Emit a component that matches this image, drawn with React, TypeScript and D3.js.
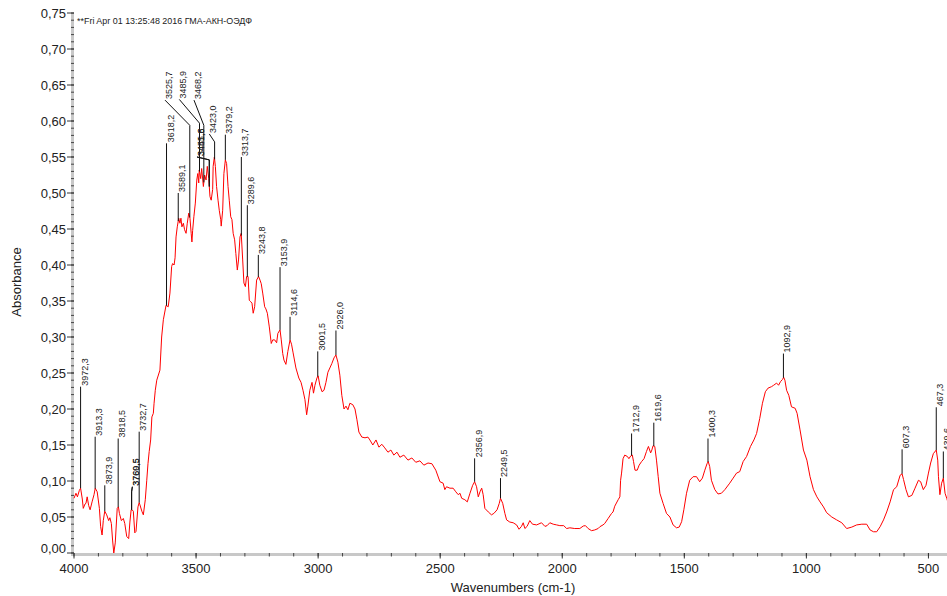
import React from 'react';
import * as d3 from 'd3';

// Spectrum (wavenumber cm-1, absorbance)
const wavenumbers = [
  4000, 3992, 3986, 3978, 3973, 3966, 3962, 3955, 3951, 3946, 3940, 3934, 3926, 3918, 3913, 3905, 3896, 3891, 3885, 3880,
  3874, 3866, 3858, 3853, 3847, 3842, 3837, 3831, 3823, 3818, 3814, 3806, 3798, 3792, 3784, 3776, 3771, 3766, 3762, 3757,
  3751, 3746, 3738, 3733, 3730, 3722, 3716, 3708, 3702, 3697, 3692, 3686, 3681, 3675, 3672, 3667, 3661, 3648, 3641, 3634,
  3623, 3614, 3607, 3600, 3596, 3590, 3586, 3582, 3577, 3571, 3566, 3562, 3558, 3552, 3547, 3541, 3536, 3530, 3525, 3520,
  3517, 3514, 3509, 3503, 3497, 3493, 3489, 3487, 3481, 3477, 3470, 3465, 3459, 3454, 3448, 3443, 3438, 3432, 3430, 3425,
  3421, 3416, 3410, 3405, 3399, 3397, 3391, 3386, 3380, 3375, 3369, 3364, 3358, 3353, 3348, 3342, 3337, 3331, 3326, 3320,
  3315, 3309, 3304, 3298, 3293, 3287, 3282, 3276, 3271, 3266, 3260, 3252, 3244, 3238, 3233, 3227, 3219, 3214, 3208, 3200,
  3192, 3186, 3178, 3170, 3165, 3156, 3151, 3145, 3140, 3132, 3124, 3115, 3109, 3103, 3091, 3079, 3070, 3062, 3054, 3047,
  3042, 3034, 3025, 3019, 3013, 3005, 3000, 2993, 2984, 2976, 2968, 2960, 2952, 2944, 2935, 2927, 2919, 2911, 2903, 2894,
  2886, 2878, 2870, 2858, 2849, 2841, 2833, 2821, 2808, 2796, 2788, 2776, 2763, 2751, 2739, 2727, 2714, 2702, 2690, 2677,
  2665, 2649, 2632, 2616, 2600, 2583, 2567, 2550, 2534, 2518, 2501, 2488, 2481, 2474, 2460, 2447, 2436, 2426, 2419, 2412,
  2399, 2389, 2378, 2367, 2359, 2351, 2344, 2337, 2330, 2324, 2317, 2303, 2290, 2280, 2267, 2258, 2253, 2244, 2235, 2228,
  2215, 2201, 2187, 2177, 2167, 2160, 2153, 2144, 2133, 2122, 2105, 2085, 2071, 2062, 2051, 2037, 2023, 2010, 1994, 1982,
  1969, 1949, 1928, 1914, 1905, 1894, 1880, 1867, 1853, 1846, 1833, 1826, 1812, 1798, 1792, 1785, 1771, 1764, 1761, 1757,
  1751, 1744, 1733, 1727, 1719, 1713, 1708, 1702, 1693, 1685, 1675, 1665, 1655, 1647, 1638, 1633, 1628, 1621, 1614, 1607,
  1600, 1587, 1573, 1559, 1546, 1532, 1521, 1511, 1502, 1491, 1478, 1464, 1450, 1437, 1426, 1416, 1407, 1402, 1396, 1389,
  1375, 1362, 1348, 1334, 1314, 1300, 1286, 1273, 1259, 1245, 1229, 1215, 1204, 1191, 1180, 1168, 1157, 1143, 1134, 1122,
  1114, 1106, 1098, 1093, 1088, 1081, 1072, 1061, 1046, 1038, 1026, 1012, 998, 985, 971, 957, 944, 930, 917, 896,
  876, 855, 835, 814, 794, 773, 753, 739, 725, 712, 698, 684, 671, 657, 643, 630, 616, 608, 602, 592,
  582, 568, 555, 541, 532, 521, 510, 500, 491, 480, 468, 462, 459, 453, 446, 439, 432, 425, 420,
];
const absorbance = [
  0.076, 0.083, 0.078, 0.087, 0.09, 0.075, 0.062, 0.068, 0.069, 0.078, 0.066, 0.06, 0.071, 0.081, 0.09, 0.085, 0.062, 0.037, 0.025, 0.045,
  0.058, 0.053, 0.045, 0.049, 0.041, 0.018, 0.0, 0.014, 0.062, 0.064, 0.055, 0.045, 0.048, 0.041, 0.023, 0.02, 0.043, 0.06, 0.06, 0.058,
  0.028, 0.03, 0.064, 0.07, 0.067, 0.058, 0.053, 0.074, 0.101, 0.124, 0.141, 0.157, 0.189, 0.194, 0.208, 0.226, 0.24, 0.254, 0.3, 0.324,
  0.344, 0.342, 0.361, 0.398, 0.402, 0.4, 0.41, 0.439, 0.453, 0.465, 0.458, 0.465, 0.453, 0.458, 0.449, 0.444, 0.458, 0.472, 0.465, 0.444,
  0.432, 0.448, 0.467, 0.486, 0.518, 0.527, 0.514, 0.532, 0.52, 0.534, 0.509, 0.525, 0.518, 0.537, 0.52, 0.495, 0.49, 0.505, 0.537, 0.55,
  0.537, 0.509, 0.49, 0.476, 0.463, 0.454, 0.476, 0.527, 0.546, 0.541, 0.509, 0.49, 0.467, 0.463, 0.444, 0.435, 0.416, 0.393, 0.407, 0.439,
  0.444, 0.407, 0.375, 0.37, 0.384, 0.384, 0.351, 0.349, 0.347, 0.333, 0.342, 0.379, 0.384, 0.379, 0.374, 0.361, 0.342, 0.339, 0.333, 0.314,
  0.291, 0.296, 0.296, 0.292, 0.305, 0.31, 0.296, 0.277, 0.268, 0.262, 0.28, 0.296, 0.29, 0.279, 0.257, 0.243, 0.237, 0.226, 0.213, 0.192,
  0.204, 0.226, 0.237, 0.222, 0.233, 0.243, 0.246, 0.233, 0.224, 0.226, 0.237, 0.251, 0.257, 0.263, 0.271, 0.275, 0.265, 0.247, 0.219, 0.2,
  0.204, 0.199, 0.208, 0.206, 0.2, 0.185, 0.168, 0.161, 0.16, 0.161, 0.157, 0.15, 0.157, 0.147, 0.151, 0.146, 0.14, 0.143, 0.136, 0.14,
  0.133, 0.136, 0.129, 0.132, 0.126, 0.128, 0.122, 0.125, 0.124, 0.115, 0.099, 0.097, 0.088, 0.092, 0.09, 0.09, 0.085, 0.081, 0.083, 0.076,
  0.074, 0.071, 0.083, 0.094, 0.099, 0.092, 0.078, 0.085, 0.09, 0.081, 0.062, 0.057, 0.053, 0.055, 0.06, 0.069, 0.076, 0.069, 0.055, 0.046,
  0.043, 0.042, 0.039, 0.033, 0.037, 0.042, 0.034, 0.037, 0.045, 0.04, 0.039, 0.042, 0.037, 0.038, 0.042, 0.04, 0.039, 0.038, 0.038, 0.034,
  0.035, 0.034, 0.034, 0.0375, 0.038, 0.034, 0.031, 0.032, 0.034, 0.0365, 0.039, 0.041, 0.048, 0.055, 0.057, 0.065, 0.074, 0.078, 0.101, 0.111,
  0.131, 0.136, 0.134, 0.131, 0.135, 0.136, 0.127, 0.115, 0.115, 0.122, 0.127, 0.131, 0.141, 0.148, 0.139, 0.143, 0.149, 0.148, 0.129, 0.106,
  0.083, 0.069, 0.055, 0.05, 0.039, 0.035, 0.036, 0.0435, 0.06, 0.083, 0.101, 0.106, 0.106, 0.099, 0.104, 0.115, 0.124, 0.127, 0.12, 0.101,
  0.088, 0.082, 0.083, 0.088, 0.097, 0.104, 0.111, 0.113, 0.127, 0.134, 0.148, 0.157, 0.166, 0.187, 0.208, 0.224, 0.229, 0.231, 0.233, 0.236,
  0.233, 0.238, 0.241, 0.244, 0.24, 0.226, 0.219, 0.203, 0.201, 0.194, 0.171, 0.143, 0.129, 0.106, 0.088, 0.078, 0.071, 0.064, 0.056, 0.05,
  0.046, 0.042, 0.034, 0.036, 0.039, 0.04, 0.04, 0.032, 0.0295, 0.0295, 0.0365, 0.046, 0.057, 0.071, 0.088, 0.092, 0.108, 0.11, 0.102, 0.088,
  0.078, 0.08, 0.09, 0.101, 0.099, 0.088, 0.094, 0.111, 0.125, 0.138, 0.143, 0.129, 0.106, 0.081, 0.097, 0.104, 0.083, 0.076, 0.07,
];

// Peak annotations: marker wavenumber, text, label height (absorbance),
// optional label wavenumber and elbow height for slanted leaders
type Peak = { text: string; wn: number; top: number; lwn?: number; elbow?: number };
const peaks: Peak[] = [
  { text: '3972,3', wn: 3973, top: 0.231 },
  { text: '3913,3', wn: 3913.3, top: 0.1615 },
  { text: '3873,9', wn: 3873.9, top: 0.094 },
  { text: '3818,5', wn: 3819, top: 0.159 },
  { text: '3769,5', wn: 3764, top: 0.092, lwn: 3761, elbow: 0.085 },
  { text: '3760,5', wn: 3764, top: 0.092, lwn: 3761, elbow: 0.085 },
  { text: '3732,7', wn: 3733, top: 0.1685 },
  { text: '3618,2', wn: 3621, top: 0.569 },
  { text: '3589,1', wn: 3573, top: 0.5 },
  { text: '3525,7', wn: 3525.7, top: 0.629, lwn: 3627.2, elbow: 0.594 },
  { text: '3485,9', wn: 3485.9, top: 0.63, lwn: 3568.7, elbow: 0.597 },
  { text: '3468,2', wn: 3468.2, top: 0.629, lwn: 3508.5, elbow: 0.594 },
  { text: '3445,8', wn: 3445.8, top: 0.55, lwn: 3496.2, elbow: 0.546 },
  { text: '3451,6', wn: 3445.8, top: 0.55, lwn: 3496.2, elbow: 0.546 },
  { text: '3423,0', wn: 3424, top: 0.582, lwn: 3445.8, elbow: 0.571 },
  { text: '3379,2', wn: 3380, top: 0.581 },
  { text: '3313,7', wn: 3314.5, top: 0.55 },
  { text: '3289,6', wn: 3290, top: 0.483 },
  { text: '3243,8', wn: 3245, top: 0.414 },
  { text: '3153,9', wn: 3156, top: 0.397 },
  { text: '3114,6', wn: 3115, top: 0.328 },
  { text: '3001,5', wn: 3001.5, top: 0.28 },
  { text: '2926,0', wn: 2927, top: 0.309 },
  { text: '2356,9', wn: 2359, top: 0.1315 },
  { text: '2249,5', wn: 2253, top: 0.104 },
  { text: '1712,9', wn: 1716, top: 0.166 },
  { text: '1619,6', wn: 1625, top: 0.181 },
  { text: '1400,3', wn: 1403, top: 0.159 },
  { text: '1092,9', wn: 1094, top: 0.277 },
  { text: '607,3', wn: 608, top: 0.144 },
  { text: '467,3', wn: 468, top: 0.2024 },
  { text: '439,6', wn: 439, top: 0.141 },
];

const yTicks = [0, 0.05, 0.1, 0.15, 0.2, 0.25, 0.3, 0.35, 0.4, 0.45, 0.5, 0.55, 0.6, 0.65, 0.7, 0.75];
const xTicks = [4000, 3500, 3000, 2500, 2000, 1500, 1000, 500];
const headerText = '**Fri Apr 01 13:25:48 2016 ГМА-АКН-ОЭДФ';
const xTitle = 'Wavenumbers (cm-1)';
const yTitle = 'Absorbance';

const W = 947;
const H = 596;
const FONT = '"Liberation Sans", Arial, sans-serif';

function valueAt(w: number): number {
  for (let i = 0; i < wavenumbers.length - 1; i++) {
    const a = wavenumbers[i];
    const b = wavenumbers[i + 1];
    if (w <= a && w >= b) {
      const t = (a - w) / (a - b);
      return absorbance[i] + t * (absorbance[i + 1] - absorbance[i]);
    }
  }
  return absorbance[absorbance.length - 1];
}

export default function App() {
  const x = d3.scaleLinear().domain([4000, 424]).range([74, 947]);
  const y = d3.scaleLinear().domain([0, 0.75]).range([553, 13]);
  const pts: [number, number][] = wavenumbers.map((w, i) => [w, absorbance[i]]);
  const line = d3
    .line<[number, number]>()
    .x((d) => x(d[0]))
    .y((d) => y(d[1]));
  const fmtY = (v: number) => d3.format('.2f')(v).replace('.', ',');
  const minorX = d3.range(4000, 424, -100);
  const minorY = d3.range(0, 0.7501, 0.01);
  const axisGray = '#c8c8c8';

  return (
    <svg
      width={W}
      height={H}
      style={{ position: 'absolute', left: 0, top: 0, background: '#fff' }}
      fontFamily={FONT}
    >
      <rect x={0} y={0} width={W} height={H} fill="#fff" />
      {/* header */}
      <text x={77} y={24} fontSize={9} fill="#222" textLength={175} lengthAdjust="spacingAndGlyphs">
        {headerText}
      </text>

      {/* axes bands */}
      <rect x={71} y={13} width={3} height={543} fill={axisGray} />
      <rect x={71} y={553} width={W - 71} height={3} fill={axisGray} />

      {/* y ticks */}
      {minorY.map((v, i) => (
        <line key={'my' + i} x1={71} x2={74} y1={y(v)} y2={y(v)} stroke="#444" strokeWidth={1} />
      ))}
      {yTicks.map((v) => (
        <g key={'y' + v}>
          <line x1={67} x2={74} y1={y(v)} y2={y(v)} stroke="#333" strokeWidth={1} />
          <text
            x={66}
            y={y(v) + (v === 0 ? 0 : 4.5)}
            fontSize={13}
            textAnchor="end"
            fill="#222"
          >
            {fmtY(v)}
          </text>
        </g>
      ))}

      {/* x ticks */}
      {minorX.map((v) => (
        <line key={'mx' + v} x1={x(v)} x2={x(v)} y1={553} y2={556.5} stroke="#444" strokeWidth={1} />
      ))}
      {xTicks.map((v) => (
        <g key={'x' + v}>
          <line x1={x(v)} x2={x(v)} y1={553} y2={558.5} stroke="#333" strokeWidth={1} />
          <text x={x(v)} y={573} fontSize={13} textAnchor="middle" fill="#222">
            {v}
          </text>
        </g>
      ))}

      {/* titles */}
      <text x={513} y={592} fontSize={13} textAnchor="middle" fill="#222">
        {xTitle}
      </text>
      <text transform={`translate(21,282) rotate(-90)`} fontSize={13} textAnchor="middle" fill="#222">
        {yTitle}
      </text>

      {/* spectrum */}
      <path d={line(pts) || ''} fill="none" stroke="#ff0000" strokeWidth={1} />

      {/* peak labels */}
      {peaks.map((p, i) => {
        const bottom = y(valueAt(p.wn));
        const lx = x(p.lwn ?? p.wn);
        const ty = y(p.top);
        let d: string;
        if (p.lwn !== undefined && p.elbow !== undefined) {
          d = `M${lx},${ty}L${x(p.wn)},${y(p.elbow)}L${x(p.wn)},${bottom}`;
        } else {
          d = `M${lx},${ty}L${lx},${bottom}`;
        }
        return (
          <g key={'p' + i}>
            <path d={d} fill="none" stroke="#111" strokeWidth={1} />
            <text
              transform={`translate(${lx + 7},${ty - 1}) rotate(-90)`}
              fontSize={9}
              fill="#222"
            >
              {p.text}
            </text>
          </g>
        );
      })}
    </svg>
  );
}
